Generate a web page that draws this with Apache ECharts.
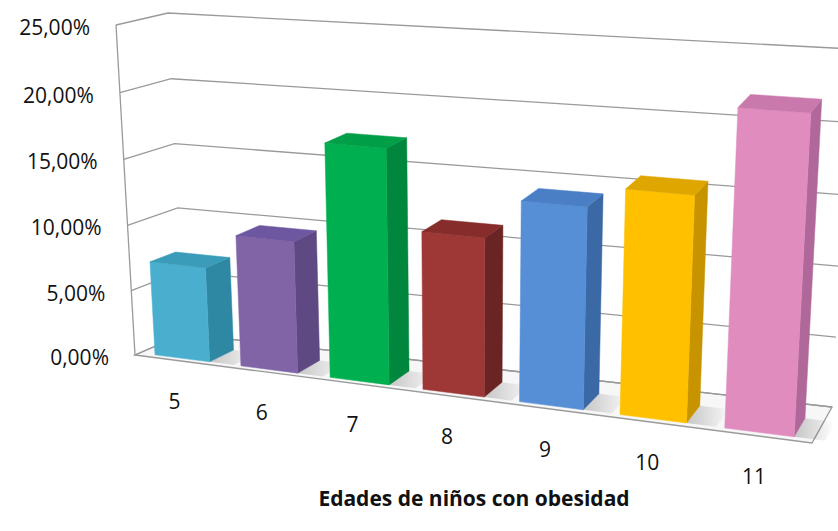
<!DOCTYPE html>
<html>
<head>
<meta charset="utf-8">
<script src="https://cdn.jsdelivr.net/npm/echarts@6/dist/echarts.min.js"></script>
<style>
  html, body { margin: 0; padding: 0; background: #ffffff; }
  #chart { width: 838px; height: 531px; }
</style>
</head>
<body>
<div id="chart"></div>
<script>
// Data
const ages = ['5', '6', '7', '8', '9', '10', '11'];
const obesityShare = [0.072, 0.099, 0.174, 0.116, 0.145, 0.160, 0.222];
const yTicks = [0, 0.05, 0.10, 0.15, 0.20, 0.25];
const yTickLabels = ['0,00%', '5,00%', '10,00%', '15,00%', '20,00%', '25,00%'];
const axisTitle = 'Edades de niños con obesidad';

// Face colours for each column: front, right side, top
const frontColors = ['#4AAFCF', '#8064A6', '#00B050', '#9E3836', '#568FD6', '#FFC000', '#E08CBF'];
const sideColors  = ['#2E88A3', '#5E4983', '#00873D', '#6A2423', '#3A69A6', '#C79400', '#B0689A'];
const topColors   = ['#3A9CB9', '#6D57A0', '#009E47', '#862D2B', '#4A7FC6', '#DFA600', '#CA79AD'];

// Screen placement of the 3-D plot box (front/back, bottom/top, left/right)
const BOX = {
  fbl: [135, 355], ftl: [116, 25], fbr: [812, 443], ftr: [832, 75],
  bbl: [184, 334], btl: [168, 13], bbr: [832, 407], btr: [852, 49]
};
const PERSPECTIVE_X = 1.15;   // horizontal foreshortening (right side nearer)
const PERSPECTIVE_Y = 1.03;   // vertical foreshortening (top nearer)
const BAR_FRONT = 0.10, BAR_BACK = 0.62, BAR_WIDTH = 0.64;

function warp(t, r) { return t / (r - (r - 1) * t); }
function lerp(a, b, t) { return [a[0] + (b[0] - a[0]) * t, a[1] + (b[1] - a[1]) * t]; }
// u: along the category axis, v: along the value axis, w: depth (0 front, 1 back)
function project(u, v, w) {
  const U = warp(u, PERSPECTIVE_X), V = warp(v, PERSPECTIVE_Y);
  const f = lerp(lerp(BOX.fbl, BOX.fbr, U), lerp(BOX.ftl, BOX.ftr, U), V);
  const b = lerp(lerp(BOX.bbl, BOX.bbr, U), lerp(BOX.btl, BOX.btr, U), V);
  return lerp(f, b, w);
}
function toU(x, cs) { return (x - cs.x) / cs.width; }
function toV(y, cs) { return (cs.y + cs.height - y) / cs.height; }

const GRID_COLOR = '#9a9a9a';
const FONT = '"Open Sans", "Noto Sans", sans-serif';

// Walls, floor, gridlines and value labels
function renderWalls(params, api) {
  const cs = params.coordSys;
  const t = api.value(1);
  const v = toV(api.coord([0, t])[1], cs);
  const children = [];
  if (params.dataIndex === 0) {
    children.push({
      type: 'polygon',
      shape: { points: [project(0, 0, 0), project(1, 0, 0), project(1, 0, 1), project(0, 0, 1)] },
      style: { fill: '#f7f7f7', stroke: GRID_COLOR, lineWidth: 1.3 }
    });
    children.push({
      type: 'line',
      shape: { x1: project(0, 0, 0)[0], y1: project(0, 0, 0)[1], x2: project(0, 1, 0)[0], y2: project(0, 1, 0)[1] },
      style: { stroke: GRID_COLOR, lineWidth: 1.3 }
    });
  }
  children.push({
    type: 'polyline',
    shape: { points: [project(0, v, 0), project(0, v, 1), project(1, v, 1)] },
    style: { stroke: GRID_COLOR, lineWidth: 1.3, fill: null }
  });
  const lp = project(0, v, 0);
  children.push({
    type: 'text',
    style: {
      text: yTickLabels[params.dataIndex], x: lp[0] - 26, y: lp[1] + 2,
      align: 'right', verticalAlign: 'middle',
      fontFamily: FONT, fontSize: 21, fill: '#111111'
    }
  });
  return { type: 'group', children: children };
}

// 3-D columns with their category labels
function renderColumn(params, api) {
  const cs = params.coordSys;
  const i = params.dataIndex;
  const top = api.coord([api.value(0), api.value(1)]);
  const band = api.size([1, 0])[0];
  const half = band * BAR_WIDTH / 2;
  const uL = toU(top[0] - half, cs), uR = toU(top[0] + half, cs), uC = toU(top[0], cs);
  const uBand = band / cs.width;
  const v = toV(top[1], cs);
  const wf = BAR_FRONT, wb = BAR_BACK;

  const shadow = {
    type: 'polygon',
    shape: { points: [project(uR, 0, wf), project(uR + uBand * 0.28, 0, wf), project(uR + uBand * 0.28, 0, wb), project(uR, 0, wb)] },
    style: {
      fill: new echarts.graphic.LinearGradient(0, 0, 1, 0, [
        { offset: 0, color: 'rgba(0,0,0,0.20)' },
        { offset: 1, color: 'rgba(0,0,0,0)' }
      ])
    }
  };
  const front = {
    type: 'polygon',
    shape: { points: [project(uL, 0, wf), project(uR, 0, wf), project(uR, v, wf), project(uL, v, wf)] },
    style: { fill: frontColors[i], stroke: frontColors[i], lineWidth: 0.5 }
  };
  const side = {
    type: 'polygon',
    shape: { points: [project(uR, 0, wf), project(uR, 0, wb), project(uR, v, wb), project(uR, v, wf)] },
    style: { fill: sideColors[i], stroke: sideColors[i], lineWidth: 0.5 }
  };
  const lid = {
    type: 'polygon',
    shape: { points: [project(uL, v, wf), project(uR, v, wf), project(uR, v, wb), project(uL, v, wb)] },
    style: { fill: topColors[i], stroke: topColors[i], lineWidth: 0.5 }
  };
  const lp = project(uC, 0, 0);
  const label = {
    type: 'text',
    style: {
      text: ages[i], x: lp[0] - 3, y: lp[1] + 40,
      align: 'center', verticalAlign: 'middle',
      fontFamily: FONT, fontSize: 21, fill: '#111111'
    }
  };
  return { type: 'group', children: [shadow, side, front, lid, label] };
}

const chart = echarts.init(document.getElementById('chart'), null, { renderer: 'svg' });
chart.setOption({
  animation: false,
  backgroundColor: '#ffffff',
  grid: { left: 0, top: 0, width: 700, height: 500 },
  xAxis: { type: 'category', data: ages, show: false },
  yAxis: { type: 'value', min: 0, max: 0.25, interval: 0.05, show: false },
  graphic: [{
    type: 'text', x: 474, y: 498,
    style: {
      text: axisTitle, align: 'center', verticalAlign: 'middle',
      fontFamily: FONT, fontSize: 21, fontWeight: 'bold', fill: '#111111'
    }
  }],
  series: [
    {
      type: 'custom', z: 1, clip: false,
      encode: { x: 0, y: 1 },
      data: yTicks.map(function (t) { return [0, t]; }),
      renderItem: renderWalls
    },
    {
      type: 'custom', z: 2, clip: false,
      encode: { x: 0, y: 1 },
      data: obesityShare.map(function (s, k) { return [k, s]; }),
      renderItem: renderColumn
    }
  ]
});
</script>
</body>
</html>
